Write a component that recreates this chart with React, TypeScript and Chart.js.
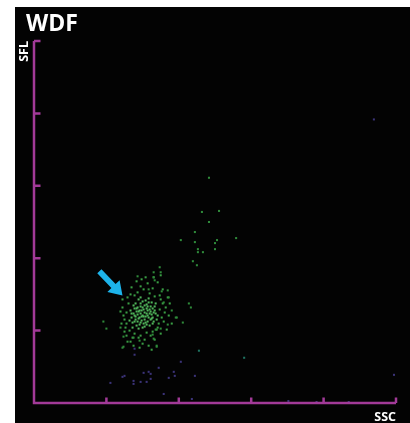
import React, { useEffect, useRef } from "react";
import { Chart, registerables } from "chart.js";

Chart.register(...registerables);

// Axis ranges (channel units) and tick positions
const X_MAX = 360;
const Y_MAX = 360;
const X_TICKS = [72, 144, 216, 288, 360];
const Y_TICKS = [72, 144, 216, 288, 360];

const TITLE = "WDF";
const X_LABEL = "SSC";
const Y_LABEL = "SFL";

// Arrow annotation (data units): tail -> tip
const ARROW_TAIL = [65, 131];
const ARROW_TIP = [88, 107];

// Dense core of the cluster
const GREEN_CORE: [number, number][] = [
  [104, 91], [108, 87], [112, 94], [101, 83], [115, 89], [106, 80], [110, 97], [118, 85], [103, 95], [99, 89],
  [113, 81], [107, 92], [120, 92], [102, 77], [111, 86], [116, 96], [105, 85], [109, 79], [114, 100], [100, 94],
  [119, 81], [104, 74], [112, 89], [97, 85], [108, 101], [117, 88], [106, 96], [121, 99], [103, 88], [110, 83],
  [115, 77], [98, 80], [113, 92], [107, 86], [123, 87], [101, 99], [109, 93], [116, 83], [105, 78], [111, 102],
  [100, 87], [118, 94], [106, 89], [114, 85], [96, 92], [112, 78], [104, 103], [119, 90], [108, 75], [102, 91],
  [117, 100], [110, 90], [95, 82], [113, 96], [107, 82], [122, 83], [99, 97], [111, 80], [105, 92], [116, 91],
  [103, 81], [120, 96], [109, 86], [98, 75], [114, 104], [106, 99], [101, 86], [118, 79], [112, 98], [97, 89],
  [108, 95], [115, 93], [104, 84], [121, 89], [110, 76], [100, 81], [113, 87], [106, 105], [117, 84], [102, 94],
];

// Looser halo around the cluster
const GREEN_HALO: [number, number][] = [
  [92, 90], [90, 83], [94, 99], [91, 75], [93, 105], [88, 95], [95, 72], [89, 87], [92, 79], [96, 108],
  [125, 93], [127, 85], [124, 79], [128, 99], [126, 103], [130, 90], [123, 75], [129, 81], [125, 107], [131, 95],
  [100, 69], [106, 67], [112, 70], [118, 71], [104, 65], [110, 63], [116, 67], [122, 73], [98, 65], [108, 59],
  [103, 110], [109, 113], [115, 109], [120, 106], [100, 107], [106, 116], [113, 119], [118, 114], [102, 121], [111, 125],
  [96, 61], [114, 57], [120, 63], [105, 55], [126, 69], [92, 67], [99, 57], [117, 53],
  [128, 113], [123, 120], [119, 125], [107, 123], [97, 115], [126, 127], [133, 105], [135, 99], [134, 87], [137, 79],
  [132, 73], [88, 103], [86, 91], [87, 79], [90, 71], [93, 61],
];

// Sparse dim green events
const GREEN_SPARSE: [number, number][] = [
  [69, 81], [72, 74], [86, 75], [89, 66], [88, 55], [99, 65], [137, 92], [141, 85], [156, 95], [148, 80],
  [133, 78], [126, 74], [121, 73], [118, 68], [119, 64], [122, 56], [125, 135], [119, 130], [126, 130], [103, 126],
  [119, 125], [120, 122], [133, 112], [127, 111], [114, 113], [134, 105], [129, 100], [154, 99], [142, 85], [158, 141],
  [162, 137], [105, 62], [89, 56], [122, 57],
  [174, 224], [167, 190], [184, 191], [174, 180], [160, 170], [146, 162], [160, 160], [182, 162], [201, 164], [180, 159],
  [163, 153], [180, 153], [163, 150], [168, 150],
];

const TEAL: [number, number][] = [[164, 52], [209, 45]];

const PURPLE: [number, number][] = [
  [100, 54], [100, 48], [76, 20], [88, 26], [90, 27], [99, 22], [99, 19], [106, 21], [112, 21], [109, 30],
  [114, 31], [116, 29], [116, 24], [124, 35], [129, 9], [134, 25], [139, 31], [140, 27], [146, 41], [157, 4],
  [160, 27], [253, 2], [281, 1], [313, 1], [358, 28], [338, 282],
];

const AXIS_COLOR = "#A23A98";

const toPts = (arr: [number, number][]) => arr.map(([x, y]) => ({ x, y }));

const overlayPlugin = {
  id: "wdfOverlay",
  afterDatasetsDraw(chart: any) {
    const { ctx, chartArea } = chart;
    const xs = chart.scales.x;
    const ys = chart.scales.y;
    const x0 = xs.getPixelForValue(0);
    const x1 = xs.getPixelForValue(X_MAX);
    const y0 = ys.getPixelForValue(0);
    const y1 = ys.getPixelForValue(Y_MAX);
    ctx.save();
    ctx.strokeStyle = AXIS_COLOR;
    ctx.lineWidth = 2.5;
    ctx.lineCap = "butt";
    ctx.beginPath();
    ctx.moveTo(x0, y1);
    ctx.lineTo(x0, y0);
    ctx.lineTo(x1, y0);
    ctx.stroke();
    // ticks
    ctx.beginPath();
    for (const v of Y_TICKS) {
      const py = ys.getPixelForValue(v);
      ctx.moveTo(x0, py);
      ctx.lineTo(x0 + 6.5, py);
    }
    for (const v of X_TICKS) {
      const px = xs.getPixelForValue(v);
      ctx.moveTo(px, y0);
      ctx.lineTo(px, y0 - 5.5);
    }
    ctx.stroke();

    // arrow
    const tx = xs.getPixelForValue(ARROW_TAIL[0]);
    const ty = ys.getPixelForValue(ARROW_TAIL[1]);
    const hx = xs.getPixelForValue(ARROW_TIP[0]);
    const hy = ys.getPixelForValue(ARROW_TIP[1]);
    const dx = hx - tx, dy = hy - ty;
    const len = Math.hypot(dx, dy);
    const ux = dx / len, uy = dy / len;
    const nx = -uy, ny = ux;
    const headLen = 13, headW = 8.5, shaftW = 2.9;
    const bx = hx - ux * headLen, by = hy - uy * headLen;
    ctx.fillStyle = "#1DB3EA";
    ctx.beginPath();
    ctx.moveTo(tx + nx * shaftW, ty + ny * shaftW);
    ctx.lineTo(bx + nx * shaftW, by + ny * shaftW);
    ctx.lineTo(bx + nx * headW, by + ny * headW);
    ctx.lineTo(hx, hy);
    ctx.lineTo(bx - nx * headW, by - ny * headW);
    ctx.lineTo(bx - nx * shaftW, by - ny * shaftW);
    ctx.lineTo(tx - nx * shaftW, ty - ny * shaftW);
    ctx.closePath();
    ctx.fill();

    // texts
    ctx.fillStyle = "#ffffff";
    ctx.textBaseline = "alphabetic";
    ctx.font = "bold 23px 'Open Sans', sans-serif";
    ctx.textAlign = "left";
    ctx.fillText(TITLE, chartArea.left - 8, 24);

    ctx.font = "bold 12.5px 'Open Sans', sans-serif";
    ctx.textAlign = "right";
    ctx.fillText(X_LABEL, x1, y0 + 18);

    ctx.save();
    ctx.translate(x0 - 6, y1);
    ctx.rotate(-Math.PI / 2);
    ctx.textAlign = "right";
    ctx.fillText(Y_LABEL, 0, 0);
    ctx.restore();
    ctx.restore();
  },
};

const bgPlugin = {
  id: "bgFill",
  beforeDraw(chart: any) {
    const { ctx, width, height } = chart;
    ctx.save();
    ctx.fillStyle = "#030303";
    ctx.fillRect(0, 0, width, height);
    ctx.restore();
  },
};

export default function App() {
  const ref = useRef<HTMLCanvasElement | null>(null);
  useEffect(() => {
    if (!ref.current) return;
    const mk = (data: [number, number][], color: string) => ({
      data: toPts(data),
      backgroundColor: color,
      borderWidth: 0,
      pointStyle: "rect" as const,
      pointRadius: 1.45,
      pointHoverRadius: 1.45,
    });
    const chart = new Chart(ref.current, {
      type: "scatter",
      data: {
        datasets: [
          mk(PURPLE, "#3b3378"),
          mk(TEAL, "#1f7462"),
          mk(GREEN_SPARSE, "#2f8a3a"),
          mk(GREEN_HALO, "#3a9e45"),
          mk(GREEN_CORE, "#4fb35a"),
        ],
      },
      options: {
        animation: false,
        responsive: false,
        maintainAspectRatio: false,
        events: [],
        layout: { padding: { left: 19, right: 14, top: 34, bottom: 20 } },
        plugins: { legend: { display: false }, tooltip: { enabled: false }, title: { display: false } },
        scales: {
          x: { type: "linear", min: 0, max: X_MAX, display: false },
          y: { type: "linear", min: 0, max: Y_MAX, display: false },
        },
      },
      plugins: [bgPlugin, overlayPlugin],
    });
    return () => chart.destroy();
  }, []);
  return (
    <div style={{ position: "absolute", left: 15, top: 7, width: 395, height: 416 }}>
      <canvas ref={ref} width={395} height={416} style={{ display: "block" }} />
    </div>
  );
}
